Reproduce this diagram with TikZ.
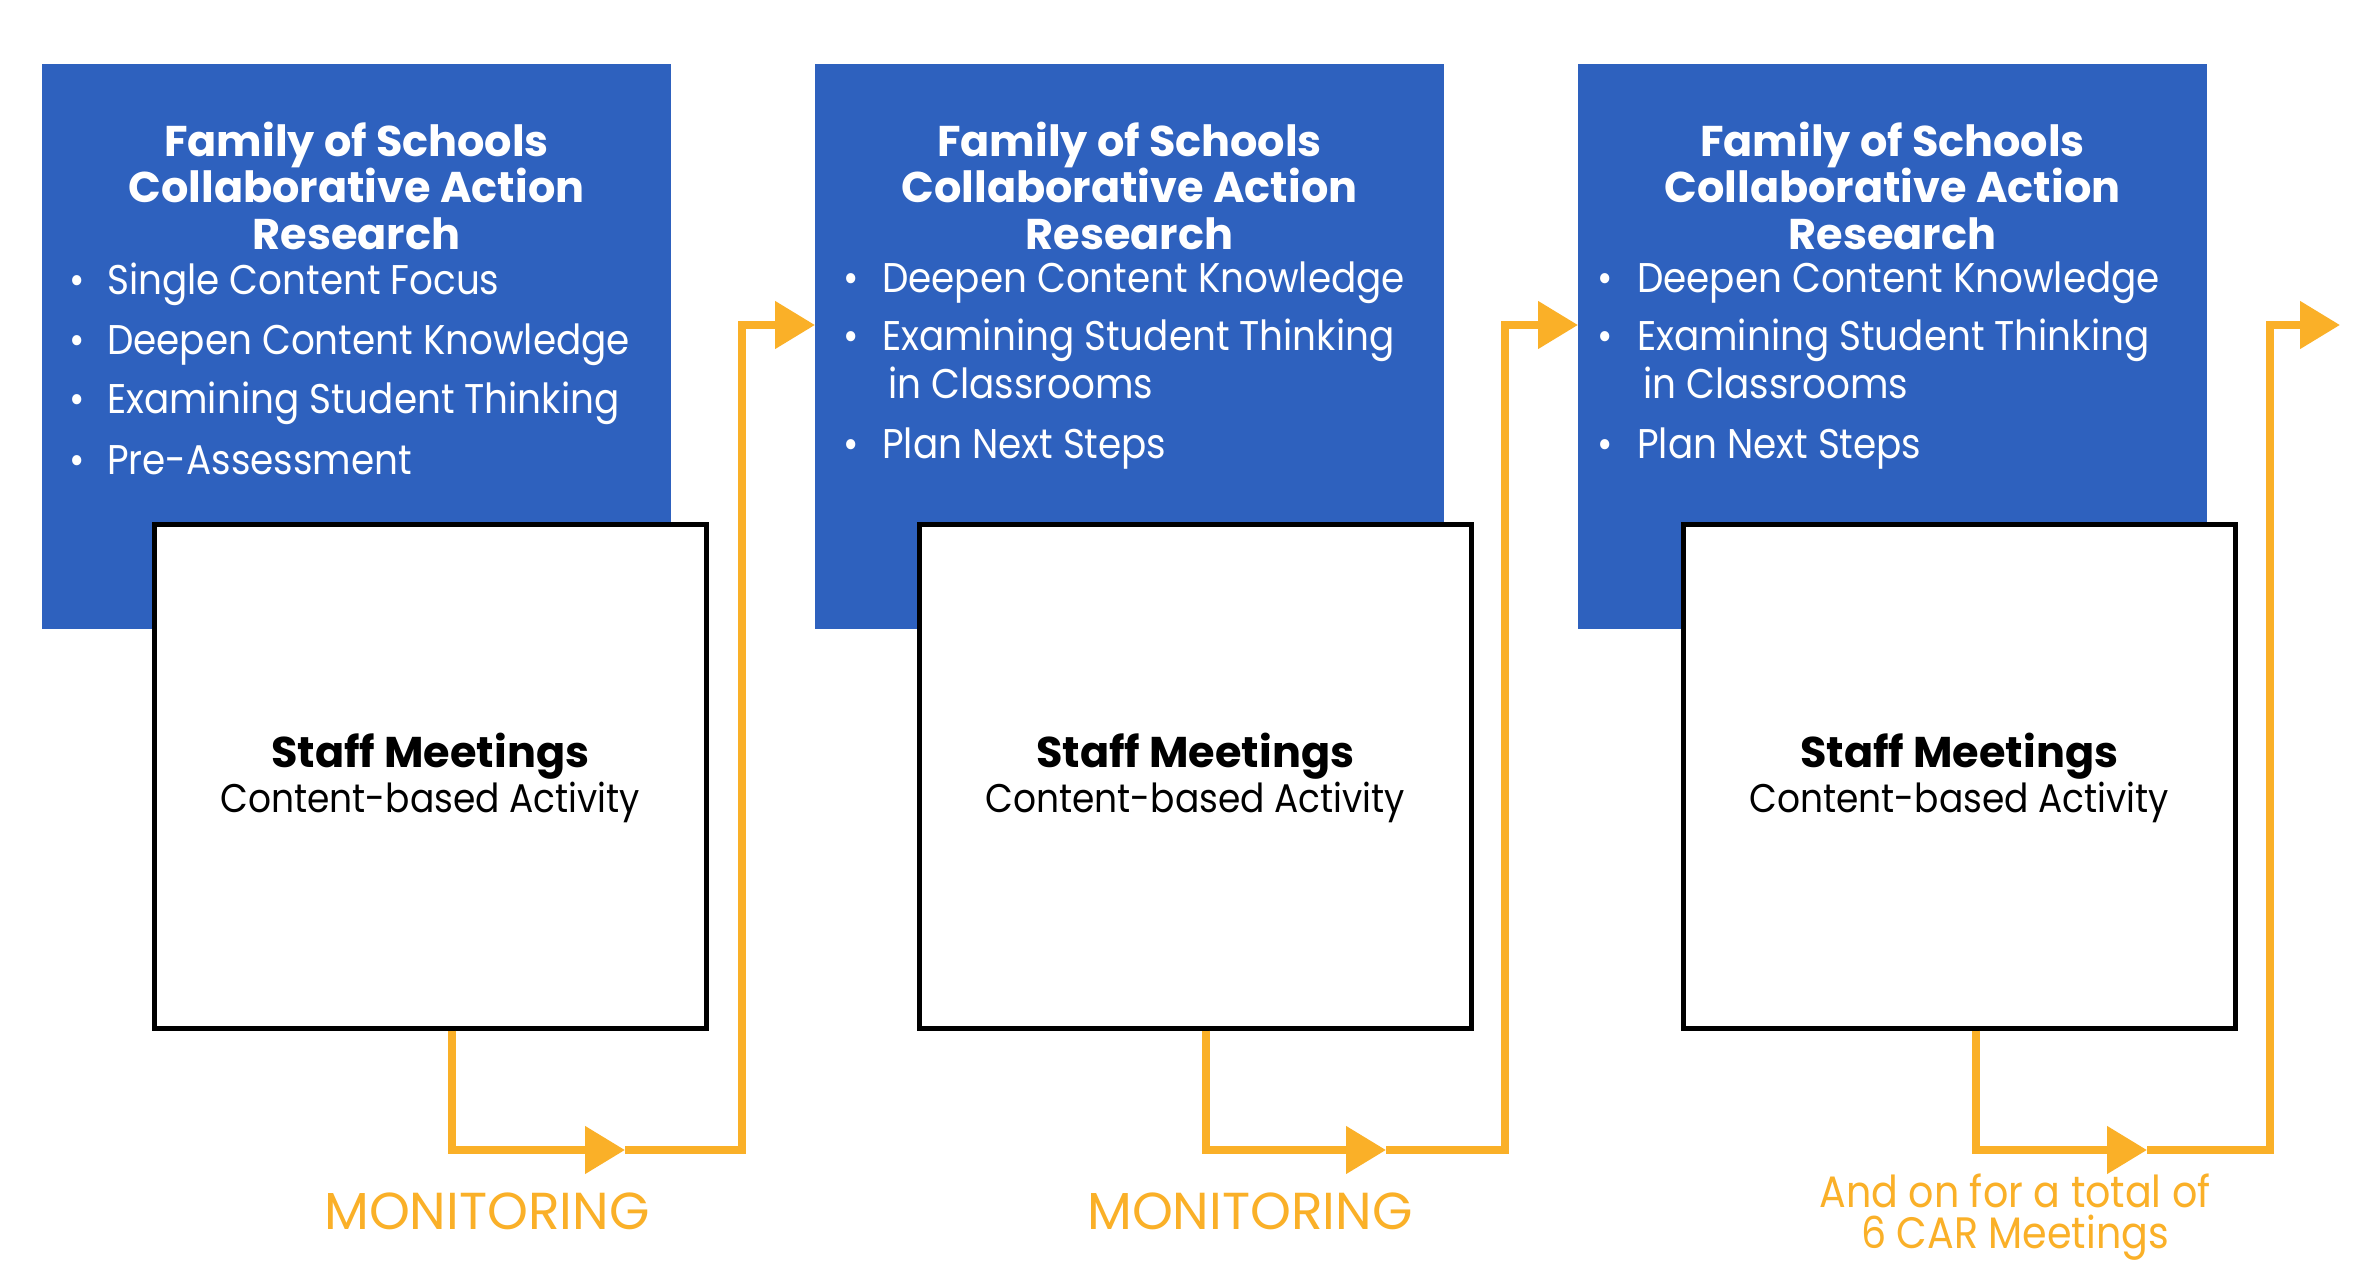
\documentclass[tikz,border=0pt]{standalone}
\usepackage{fontspec}
\setmainfont{Poppins}
\newfontfamily\narrowf{Poppins}[FakeStretch=0.9]
\usetikzlibrary{arrows.meta,calc}
\definecolor{carblue}{RGB}{46,97,190}
\definecolor{carorange}{RGB}{250,176,40}
\newcommand\carItem[5]{%
  \node[bul] (#1b) at (#2,#4) {•};
  \node[item] (#1) at (#3,#4) {#5};}
\newcommand\carTitle[2]{%
  \node[ttl] (#1a) at (#2,157) {Family of Schools};
  \node[ttl] (#1b) at (#2,203) {Collaborative Action};
  \node[ttl] (#1c) at (#2,249) {Research};}
\begin{document}
\begin{tikzpicture}[x=1pt,y=-1pt,
  bluebox/.style={fill=carblue,draw=none,inner sep=0pt,anchor=north west},
  whitebox/.style={fill=white,draw=black,line width=4.5pt,inner sep=0pt,anchor=north west,
     minimum width=552pt,minimum height=504pt},
  flow/.style={draw=carorange,line width=8pt},
  tipped/.style={-{Triangle[length=40pt,width=46pt]}},
  ttl/.style={text=white,anchor=base,inner sep=0pt,font=\fontsize{43}{46}\selectfont\bfseries},
  item/.style={text=white,anchor=base west,inner sep=0pt,font=\narrowf\fontsize{41.5}{48}\selectfont},
  bul/.style={text=white,anchor=base,inner sep=0pt,font=\narrowf\fontsize{41.5}{48}\selectfont},
  staff/.style={anchor=base,inner sep=0pt,font=\fontsize{43}{48}\selectfont\bfseries},
  content/.style={anchor=base,inner sep=0pt,font=\narrowf\fontsize{40}{48}\selectfont},
  orangelabel/.style={text=carorange,anchor=base,inner sep=0pt,font=\fontsize{52}{56}\selectfont},
  orangesmall/.style={text=carorange,anchor=base,inner sep=0pt,font=\narrowf\fontsize{44}{46}\selectfont}
]
\useasboundingbox (0,0) rectangle (2361,1284);
\fill[white] (0,0) rectangle (2361,1284);

% blue boxes
\node[bluebox,minimum width=629pt,minimum height=565pt] (b1) at (42,64) {};
\node[bluebox,minimum width=629pt,minimum height=565pt] (b2) at (815,64) {};
\node[bluebox,minimum width=629pt,minimum height=565pt] (b3) at (1578,64) {};

% titles
\carTitle{t1}{356.5}
\carTitle{t2}{1129.5}
\carTitle{t3}{1892.5}

% bullets box 1
\carItem{i11}{77}{107}{294}{Single Content Focus}
\carItem{i12}{77}{107}{354}{Deepen Content Knowledge}
\carItem{i13}{77}{107}{413}{Examining Student Thinking}
\carItem{i14}{77}{107}{474}{Pre-Assessment}
% bullets box 2
\carItem{i21}{851}{882}{292}{Deepen Content Knowledge}
\carItem{i22}{851}{882}{350}{Examining Student Thinking}
\node[item] (i22c) at (888,398) {in Classrooms};
\carItem{i23}{851}{882}{458}{Plan Next Steps}
% bullets box 3
\carItem{i31}{1605}{1637}{292}{Deepen Content Knowledge}
\carItem{i32}{1605}{1637}{350}{Examining Student Thinking}
\node[item] (i32c) at (1643,398) {in Classrooms};
\carItem{i33}{1605}{1637}{458}{Plan Next Steps}

% white boxes
\node[whitebox] (w1) at (152,522) {};
\node[whitebox] (w2) at (917,522) {};
\node[whitebox] (w3) at (1681,522) {};
\foreach \n in {1,2,3}{
  \node[staff] (s\n) at ($(w\n.north)+(0,245)$) {Staff Meetings};
  \node[content] (c\n) at ($(w\n.north)+(0,290)$) {Content-based Activity};
}

% connector coordinates
\coordinate (m1) at (625,1150);
\coordinate (m2) at (1386,1150);
\coordinate (m3) at (2147,1150);
\coordinate (r1) at (742,325);
\coordinate (r2) at (1505,325);
\coordinate (r3) at (2270,325);
\coordinate (e3) at (2340,325);

\draw[flow,tipped] ($(w1.south)+(22,0)$) |- (m1);
\draw[flow,tipped] (m1) -| (r1) -- (r1 -| b2.west);
\draw[flow,tipped] ($(w2.south)+(11,0)$) |- (m2);
\draw[flow,tipped] (m2) -| (r2) -- (r2 -| b3.west);
\draw[flow,tipped] ($(w3.south)+(17,0)$) |- (m3);
\draw[flow,tipped] (m3) -| (r3) -- (e3);

% labels
\node[orangelabel] (mon1) at (487,1229) {MONITORING};
\node[orangelabel] (mon2) at (1250,1229) {MONITORING};
\node[orangesmall] (and1) at (2015,1207) {And on for a total of};
\node[orangesmall] (and2) at (2015,1248) {6 CAR Meetings};
\end{tikzpicture}
\end{document}
